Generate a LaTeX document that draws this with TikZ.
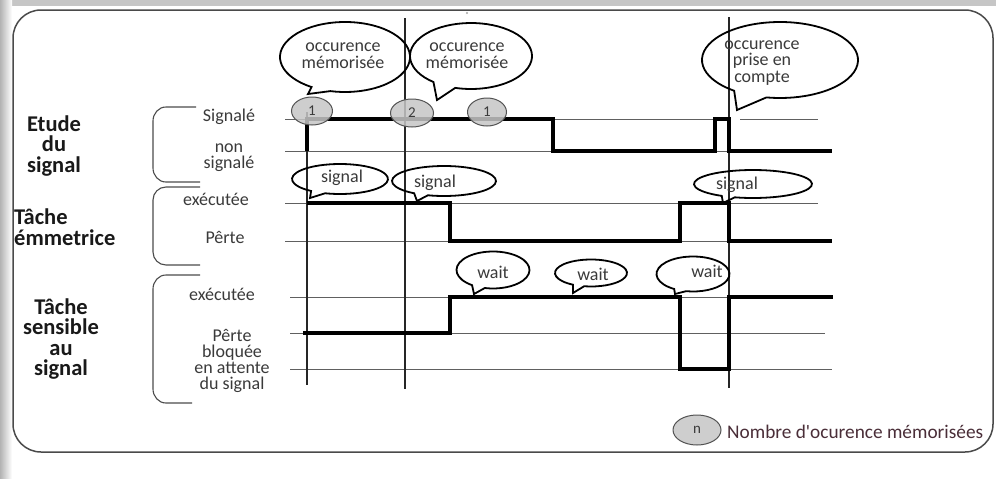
\documentclass[tikz,border=0pt]{standalone}
\usepackage{fontspec}
\setmainfont{Carlito}
\usetikzlibrary{shapes.geometric}
\definecolor{txt}{HTML}{3A3A3A}
\definecolor{legtxt}{HTML}{4A2E38}
\definecolor{framec}{HTML}{4A4A4A}
\tikzset{
  thinline/.style={draw=gray!75!black, line width=0.9pt},
  vline/.style={draw=black!85, line width=1.1pt},
  wave/.style={draw=black, line width=4pt, line join=miter},
  brace/.style={draw=gray!60!black, line width=1.1pt},
  bubline/.style={draw=black, line width=1.8pt, line join=miter},
  bubtxt/.style={font=\fontsize{18}{17}\selectfont, text=txt, align=center, inner sep=0pt},
  rowlab/.style={font=\fontsize{18}{16}\selectfont, text=txt, align=center, inner sep=0pt},
  grplab/.style={font=\bfseries\fontsize{22.5}{20.5}\selectfont, text=black!90, inner sep=0pt},
  occ/.style={ellipse, draw=gray!65!black, fill=gray!45, fill opacity=0.85, text opacity=1,
              minimum width=41pt, minimum height=28pt, inner sep=0pt, line width=1pt,
              font=\fontsize{15}{15}\selectfont, text=txt}
}
% #1 name, #2 centre, #3 rx, #4 ry, #5 #6 tail base angles, #7 tip
\newcommand{\mybubble}[7]{%
  \coordinate (#1) at #2;
  \draw[bubline] ([shift={(#1)}]#6:#3 and #4) arc[start angle=#6, end angle=#5+360, x radius=#3, y radius=#4] -- #7 -- cycle;
}
\begin{document}
\begin{tikzpicture}[x=1pt,y=-1pt]
\useasboundingbox (0,0) rectangle (996,482);
% background and shadow
\fill[white] (0,0) rectangle (996,482);
\fill[gray!45] (0,0) rectangle (996,6);
\shade[left color=gray!60, right color=white] (0,0) rectangle (12,478);
% frame
\draw[framec, line width=1.5pt, rounded corners=28pt] (13,10) rectangle (993,452);
\fill[gray!70] (467,13) circle (1.2pt);

% group labels
\node[grplab, align=center] (g1) at (54,146) {Etude\\du\\signal};
\node[grplab, align=left, anchor=west] (g2) at (14,227) {Tâche\\émmetrice};
\node[grplab, align=center] (g3) at (61,339) {Tâche\\sensible\\au\\signal};

% braces
\draw[brace] (196,107) -- (166,107) to[out=180,in=90] (153,121) -- (153,168) to[out=-90,in=180] (166,182) -- (200,182);
\draw[brace] (200,187) -- (166,187) to[out=180,in=90] (153,200) -- (153,252) to[out=-90,in=180] (166,265) -- (200,265);
\draw[brace] (200,275) -- (166,275) to[out=180,in=90] (153,289) -- (153,389) to[out=-90,in=180] (166,403) -- (192,403);

% row labels
\node[rowlab] (r1) at (229,117) {Signalé};
\node[rowlab] (r2) at (229,158) {non\\signalé};
\node[rowlab] (r3) at (216,199) {exécutée};
\node[rowlab] (r4) at (225,237) {Pêrte};
\node[rowlab] (r5) at (222,294) {exécutée};
\node[rowlab] (r6) at (232,361) {Pêrte\\bloquée\\en attente\\du signal};

% thin horizontal lines
\draw[thinline] (285,119) -- (729,119);
\draw[thinline] (740,119) -- (818,119);
\draw[thinline] (285,151) -- (832,151);
\draw[thinline] (285,203) -- (818,203);
\draw[thinline] (285,241) -- (832,241);
\draw[thinline] (290,297) -- (833,297);
\draw[thinline] (290,333) -- (825,333);
\draw[thinline] (290,369) -- (832,369);

% vertical lines
\draw[vline] (307,112) -- (307,385);
\draw[vline] (405,18) -- (405,389);
\draw[vline] (729,17) -- (729,388);

% waveforms
\draw[wave] (307,151) -- (307,119) -- (553,119) -- (553,151) -- (715,151) -- (715,119) -- (729,119) -- (729,151) -- (832,151);
\draw[wave] (307,203) -- (450,203) -- (450,241) -- (680,241) -- (680,203) -- (729,203) -- (729,241) -- (832,241);
\draw[wave] (303,333) -- (450,333) -- (450,297) -- (680,297) -- (680,369) -- (729,369) -- (729,297) -- (833,297);

% occurrence counters
\node[occ] (c1) at (312,111) {1};
\node[occ, minimum width=43pt] (c2) at (412,113) {2};
\node[occ, minimum width=39pt] (c3) at (487,112) {1};

% callouts
\mybubble{b1}{(345,57)}{65}{35}{103}{121}{(308,94)}
\node[bubtxt] (t1) at (343,56) {occurence\\mémorisée};
\mybubble{b2}{(471,56)}{61}{33}{105}{128}{(437,100)}
\node[bubtxt] (t2) at (467,56) {occurence\\mémorisée};
\mybubble{b3}{(780,60)}{78}{38}{100}{126}{(737,110)}
\node[bubtxt, font=\fontsize{18}{16.5}\selectfont] (t3) at (762,63) {occurence\\prise en\\compte};

\mybubble{b4}{(340,179)}{48}{15}{108}{127}{(310,198)}
\node[bubtxt] (t4) at (342,178) {signal};
\mybubble{b5}{(444,181)}{52}{15}{108}{125}{(417,201)}
\node[bubtxt] (t5) at (435,183) {signal};
\mybubble{b6}{(753,184)}{59}{14}{108}{122}{(723,203)}
\node[bubtxt] (t6) at (737,185) {signal};

\mybubble{b7}{(493,270)}{36.5}{18.5}{103}{125}{(474,294)}
\node[bubtxt] (t7) at (493,272) {wait};
\mybubble{b8}{(591,273)}{36}{13.5}{101}{120}{(573,293)}
\node[bubtxt] (t8) at (593,274) {wait};
\mybubble{b9}{(693,274)}{36.5}{17.5}{101}{121}{(675,294)}
\node[bubtxt] (t9) at (707,271) {wait};

% legend
\node[occ, minimum width=48pt, minimum height=30pt] (leg) at (697,430) {n};
\node[anchor=west, inner sep=0pt, font=\fontsize{19.3}{18}\selectfont, text=legtxt] (legt) at (727,432) {Nombre d\textquotesingle ocurence mémorisées};
\end{tikzpicture}
\end{document}
